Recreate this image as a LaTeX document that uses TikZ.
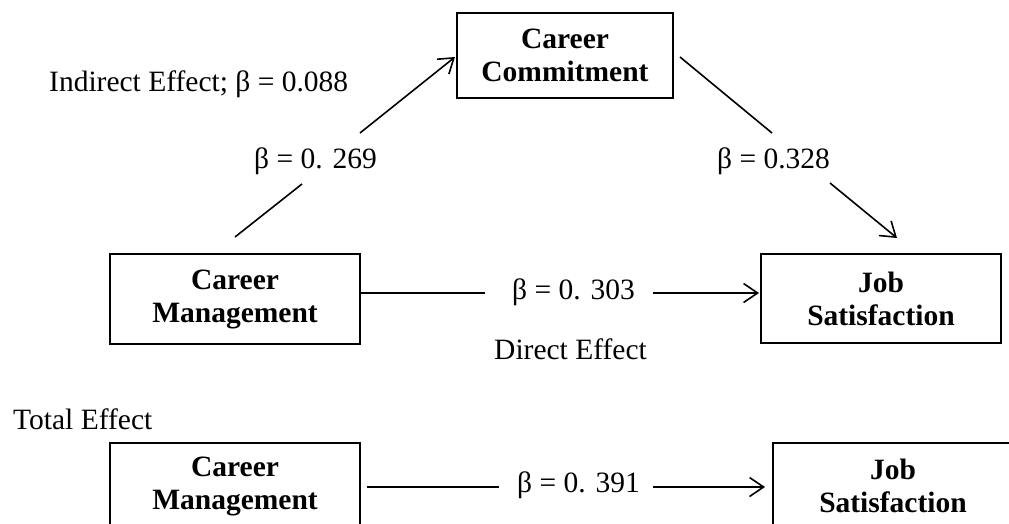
\documentclass[tikz,border=0pt]{standalone}
\usepackage{fontspec}
\setmainfont{Liberation Serif}
\usetikzlibrary{arrows.meta}
\tikzset{
  boxnode/.style={draw, line width=1.7pt, inner sep=0pt, align=center,
    font=\fontsize{29.5}{33}\selectfont\bfseries},
  lbl/.style={inner sep=0pt, anchor=base west, font=\fontsize{29.5}{33}\selectfont},
  conn/.style={line width=1.6pt},
  arr/.style={conn, -{Straight Barb[length=14pt,width=19pt,line width=1.6pt]}}
}
\begin{document}
\begin{tikzpicture}[x=1pt,y=-1pt]
\useasboundingbox (0,0) rectangle (1009,523);
\clip (0,0) rectangle (1009,523);
\fill[white] (0,0) rectangle (1009,523);
% boxes
\node[boxnode, minimum width=216pt, minimum height=85pt] (CC) at (565,55.5) {Career\\Commitment};
\node[boxnode, minimum width=250pt, minimum height=90pt] (CM) at (235,299) {Career\\Management};
\node[boxnode, minimum width=240pt, minimum height=89pt] (JS) at (881,298.5) {Job\\Satisfaction};
\node[boxnode, minimum width=250pt, minimum height=86pt] (CM2) at (235,486) {Career\\Management};
\node[boxnode, minimum width=240pt, minimum height=86pt] (JS2) at (893,486) {Job\\Satisfaction};
% labels
\node[lbl] (ind) at (49,91) {Indirect Effect; β = 0.088};
\node[lbl] (b1) at (254,168) {β = 0. 269};
\node[lbl] (b2) at (717,168) {β = 0.328};
\node[lbl] (b3) at (512,299) {β = 0. 303};
\node[lbl] (de) at (494,359) {Direct Effect};
\node[lbl] (te) at (13,429) {Total Effect};
\node[lbl] (b4) at (517,492) {β = 0. 391};
% connector coordinates
\coordinate (a1) at (235,237);
\coordinate (a2) at (302,184);
\coordinate (a3) at (360,133);
\coordinate (a4) at (455,57);
\coordinate (c1) at (680,57);
\coordinate (c2) at (772,133);
\coordinate (c3) at (830,183);
\coordinate (c4) at (897,238);
\coordinate (d1) at (485,293);
\coordinate (d2) at (653,293);
\coordinate (d3) at (759,293);
\coordinate (e0) at (367,487);
\coordinate (e1) at (499,487);
\coordinate (e2) at (653,487);
\coordinate (e3) at (765,487);
% connectors
\draw[conn] (a1) -- (a2);
\draw[arr] (a3) -- (a4);
\draw[conn] (c1) -- (c2);
\draw[arr] (c3) -- (c4);
\draw[conn] (CM.east |- d1) -- (d1);
\draw[arr] (d2) -- (d3);
\draw[conn] (e0) -- (e1);
\draw[arr] (e2) -- (e3);
\end{tikzpicture}
\end{document}
